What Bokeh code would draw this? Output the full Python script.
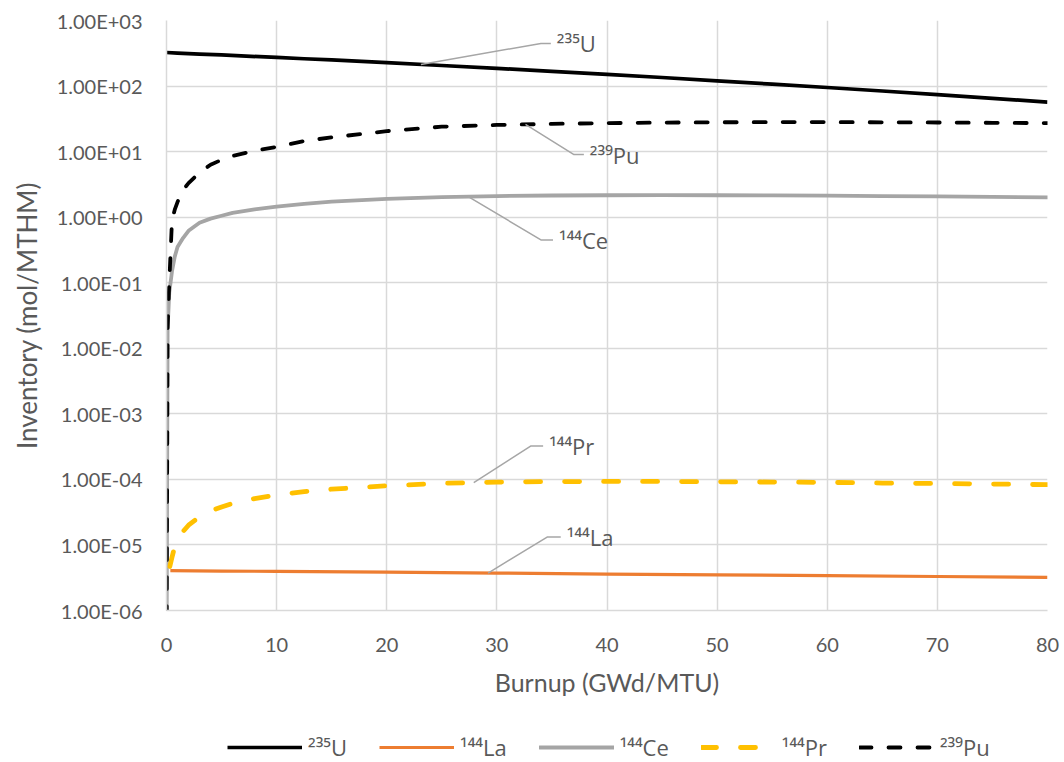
import numpy as np
from bokeh.plotting import figure
from bokeh.layouts import column
from bokeh.models import FixedTicker, CustomJSTickFormatter, Legend, LegendItem
from bokeh.core.properties import value
from bokeh.embed import file_html
from bokeh.resources import INLINE

# ---- inventory versus burnup (mol/MTHM) ----
u235_burnup = [0, 1, 3, 5, 10, 12.5, 15, 20, 25, 30, 35, 40, 45, 50, 55, 60, 65, 70, 75, 80]
u235_inv = [325, 318, 308, 298, 273, 261, 250, 227, 206, 186, 168, 151, 135, 120, 107, 95, 84, 74, 65, 57]

la144_burnup = [0.35, 5, 10, 20, 30, 40, 50, 60, 70, 80]
la144_inv = [4.05e-6, 4.0e-6, 3.95e-6, 3.84e-6, 3.72e-6, 3.6e-6, 3.5e-6, 3.4e-6, 3.3e-6, 3.2e-6]

ce144_burnup = [0, 0.1, 0.25, 0.5, 0.75, 1, 1.5, 2, 3, 4, 5, 6, 8, 10, 12.5, 15, 20, 25, 30,
                35, 40, 45, 50, 55, 60, 65, 70, 75, 80]
ce144_inv = [1e-7, 0.02, 0.07, 0.15, 0.25, 0.35, 0.48, 0.62, 0.82, 0.95, 1.05, 1.16, 1.32, 1.45,
             1.6, 1.72, 1.9, 2.02, 2.1, 2.14, 2.16, 2.17, 2.16, 2.15, 2.13, 2.1, 2.07, 2.04, 2.0]

pr144_burnup = [0.3, 0.5, 0.75, 1, 1.5, 2, 3, 4, 5, 6, 8, 10, 12.5, 15, 20, 25, 30, 35, 40, 45,
                50, 55, 60, 65, 70, 75, 80]
pr144_inv = [4.7e-6, 6.5e-6, 9.5e-6, 1.15e-5, 1.6e-5, 2.0e-5, 2.7e-5, 3.3e-5, 3.8e-5, 4.3e-5,
             5.1e-5, 5.8e-5, 6.5e-5, 7.1e-5, 8.0e-5, 8.7e-5, 9.1e-5, 9.25e-5, 9.3e-5, 9.3e-5,
             9.2e-5, 9.1e-5, 9.0e-5, 8.8e-5, 8.65e-5, 8.5e-5, 8.3e-5]

pu239_burnup = [0, 0.1, 0.25, 0.5, 0.75, 1, 1.5, 2, 3, 4, 5, 6, 8, 10, 12.5, 15, 20, 25, 30, 35,
                40, 45, 50, 55, 60, 65, 70, 75, 80]
pu239_inv = [1e-7, 0.02, 0.1, 0.9, 1.3, 1.7, 2.6, 3.3, 4.8, 6.3, 7.5, 8.6, 10.3, 11.8, 14.5,
             16.5, 20.5, 24.0, 25.5, 26.5, 27.2, 27.7, 28.0, 28.2, 28.2, 28.0, 27.8, 27.5, 27.2]

series_names = ["²³⁵U", "¹⁴⁴La", "¹⁴⁴Ce", "¹⁴⁴Pr", "²³⁹Pu"]

# axis ticks
x_ticks = [0, 10, 20, 30, 40, 50, 60, 70, 80]
y_tick_values = [1e-6, 1e-5, 1e-4, 1e-3, 1e-2, 1e-1, 1e0, 1e1, 1e2, 1e3]
y_tick_labels = ["1.00E-06", "1.00E-05", "1.00E-04", "1.00E-03", "1.00E-02",
                 "1.00E-01", "1.00E+00", "1.00E+01", "1.00E+02", "1.00E+03"]

# callouts: series index, burnup where the leader touches the curve,
# burnup of the elbow, burnup of the leader end, rise of the label in decades
callout_series = [0, 4, 2, 3, 1]
callout_anchor = [23.1, 32.6, 27.4, 27.9, 29.2]
callout_elbow = [34.0, 37.0, 34.0, 33.1, 34.6]
callout_end = [34.9, 37.9, 35.1, 34.2, 35.8]
callout_rise = [0.32, -0.46, -0.66, 0.56, 0.55]

TEXT = "#595959"
GRID = "#d9d9d9"
LABEL_FONT = "Open Sans"
AXIS_FONT = "Lato"

p = figure(width=1064, height=710, y_axis_type="log",
           x_range=(0, 80), y_range=(1e-6, 1e3),
           output_backend="svg", toolbar_location=None,
           min_border_left=166, min_border_right=17,
           min_border_top=20, min_border_bottom=100)
p.outline_line_color = None
p.background_fill_color = "white"
p.border_fill_color = "white"

# axes
p.xaxis.ticker = FixedTicker(ticks=x_ticks)
p.yaxis.ticker = FixedTicker(ticks=y_tick_values)
p.yaxis.formatter = CustomJSTickFormatter(
    args=dict(vals=y_tick_values, labs=y_tick_labels),
    code="""
    const lt = Math.log10(tick);
    for (let i = 0; i < vals.length; i++) {
        if (Math.abs(Math.log10(vals[i]) - lt) < 1e-6) return labs[i];
    }
    return "";
    """)
for ax in (p.xaxis[0], p.yaxis[0]):
    ax.axis_line_color = GRID
    ax.axis_line_width = 1.5
    ax.major_tick_line_color = None
    ax.minor_tick_line_color = None
    ax.major_tick_out = 0
    ax.major_tick_in = 0
    ax.minor_tick_out = 0
    ax.minor_tick_in = 0
    ax.major_label_text_font = AXIS_FONT
    ax.major_label_text_font_size = "20px"
    ax.major_label_text_color = TEXT
    ax.axis_label_text_font = AXIS_FONT
    ax.axis_label_text_font_style = "normal"
    ax.axis_label_text_color = TEXT
p.xaxis.axis_label = "Burnup (GWd/MTU)"
p.yaxis.axis_label = "Inventory (mol/MTHM)"
p.xaxis.axis_label_text_font_size = "25px"
p.yaxis.axis_label_text_font_size = "26px"
p.xaxis.major_label_standoff = 27
p.xaxis.axis_label_standoff = 12
p.yaxis.major_label_standoff = 24
p.yaxis.axis_label_standoff = 11

p.xgrid.grid_line_color = GRID
p.ygrid.grid_line_color = GRID
p.xgrid.grid_line_width = 1.5
p.ygrid.grid_line_width = 1.5

# series
xs = [u235_burnup, la144_burnup, ce144_burnup, pr144_burnup, pu239_burnup]
ys = [u235_inv, la144_inv, ce144_inv, pr144_inv, pu239_inv]
colors = ["#000000", "#ed7d31", "#a5a5a5", "#ffc000", "#000000"]
widths = [3.7, 3.2, 3.8, 4.8, 3.8]
dashes = ["solid", "solid", "solid", "15 24", "12 17"]
caps = ["butt", "butt", "round", "round", "round"]

for x, y, c, w, d, cap in zip(xs, ys, colors, widths, dashes, caps):
    p.line(x, y, line_color=c, line_width=w, line_dash=d, line_cap=cap, line_join="round")

# callouts with leader lines
for si, xa, xe, xn, rise in zip(callout_series, callout_anchor, callout_elbow,
                                callout_end, callout_rise):
    ya = 10 ** np.interp(xa, xs[si], np.log10(ys[si]))
    yl = ya * 10 ** rise
    p.line([xa, xe, xn], [ya, yl, yl], line_color="#a6a6a6", line_width=1.5)
    p.text(x=[xn], y=[yl], text=[series_names[si]], x_offset=6,
           text_font=value(LABEL_FONT), text_font_size="22px",
           text_color=TEXT, text_baseline="middle", text_align="left")

# legend strip underneath the chart (its frame lines up with the chart's frame)
leg = figure(width=1064, height=52, x_range=(0, 1), y_range=(0, 1),
             output_backend="svg", toolbar_location=None,
             x_axis_location=None, y_axis_location=None,
             min_border_left=0, min_border_right=0, min_border_top=0, min_border_bottom=0)
leg.outline_line_color = None
leg.grid.visible = False
leg.border_fill_color = "white"
leg.background_fill_color = "white"
items = []
for n, c, w, d, cap in zip(series_names, colors, widths, dashes, caps):
    # proxy lines kept outside the visible range; only their legend swatches show
    r = leg.line([5, 6], [5, 6], line_color=c, line_width=w, line_dash=d, line_cap=cap)
    items.append(LegendItem(label=n, renderers=[r]))
legend = Legend(items=items, orientation="horizontal", location=(61, 0),
                glyph_width=75, glyph_height=26, label_height=26,
                label_standoff=6, spacing=32,
                padding=0, margin=0, border_line_color=None,
                background_fill_alpha=0,
                label_text_font=LABEL_FONT, label_text_font_size="22px",
                label_text_color=TEXT)
leg.add_layout(legend, "center")

layout = column(p, leg, spacing=0)
open("out.html", "w").write(file_html(layout, INLINE))
